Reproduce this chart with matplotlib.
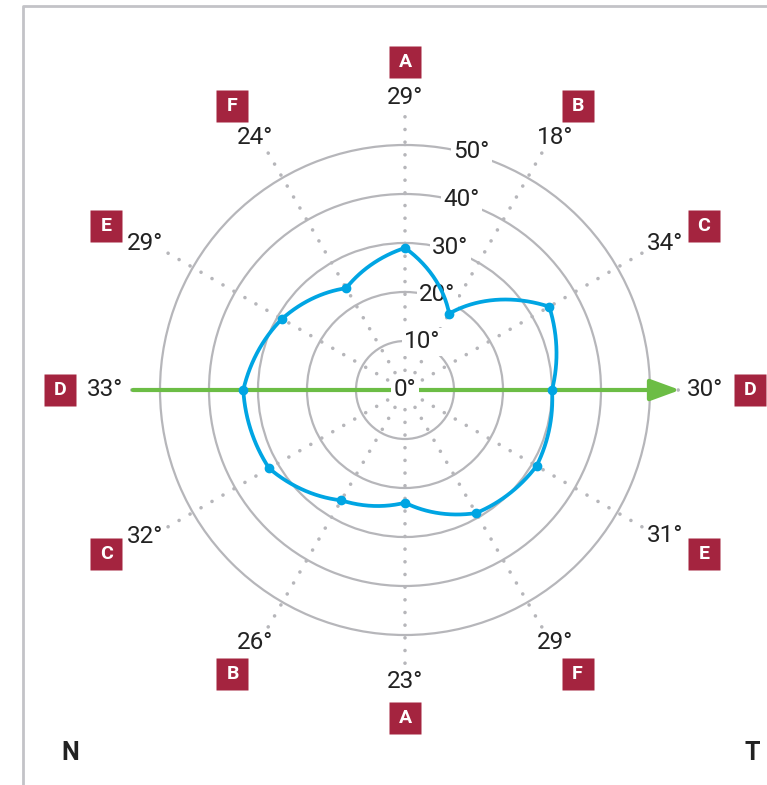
import numpy as np
import matplotlib
matplotlib.use("Agg")
import matplotlib.pyplot as plt
from matplotlib.lines import Line2D

# ---- data ----
spoke_letters = ["A", "B", "C", "D", "E", "F", "A", "B", "C", "D", "E", "F"]
spoke_angles_deg = [0, 30, 60, 90, 120, 150, 180, 210, 240, 270, 300, 330]
values = [29, 18, 34, 30, 31, 29, 23, 26, 32, 33, 29, 24]
ring_values = [10, 20, 30, 40, 50]
corner_left = "N"
corner_right = "T"

# ---- style ----
BLUE = "#00a5e3"
GREEN = "#6cbd45"
RED = "#a4243f"
GRAY = "#b6b6ba"
TXT = "#222222"
FONT = ["Roboto", "DejaVu Sans"]
FS = 17.5

W, H = 767, 785
fig = plt.figure(figsize=(W / 100, H / 100), dpi=100)
cx, cy, R = 405, 390, 245  # pixel centre (from top) and radius for r=50
ax = fig.add_axes([(cx - R) / W, (H - cy - R) / H, 2 * R / W, 2 * R / H],
                  projection="polar")
ax.set_theta_zero_location("N")
ax.set_theta_direction(-1)
ax.set_ylim(0, 50)
ax.spines["polar"].set_visible(False)
ax.set_xticks([])
ax.set_yticks(ring_values)
ax.set_yticklabels([])
ax.yaxis.grid(True, color=GRAY, lw=1.6)
for gl in ax.yaxis.get_gridlines():
    gl.set_clip_on(False)
ax.xaxis.grid(False)
ax.set_axisbelow(True)
ax.patch.set_alpha(0)

px = 50 / R  # data units per pixel
th = np.deg2rad(spoke_angles_deg)


def ellipse_pos(t, a, b):
    """polar (theta, r) of a point on an ellipse of pixel half-axes a, b"""
    ex, ey = a * np.sin(t), b * np.cos(t)
    return np.arctan2(ex, ey), np.hypot(ex, ey) * px


# dotted spokes
for t in th:
    ax.plot([t, t], [1.5, 56], color=GRAY, lw=2.6, ls=(0, (0.01, 3.5)),
            dash_capstyle="round", clip_on=False, zorder=1)

# ring labels
for v in ring_values:
    a = np.deg2rad(15.5 + (50 - v) * 0.11)
    ax.text(a, v + 0.5, f"{v}°", ha="center", va="center", fontsize=FS,
            family=FONT, color=TXT, zorder=4,
            bbox=dict(boxstyle="square,pad=0.1", fc="white", ec="none"))
ax.text(0, 0, "0°", ha="center", va="center", fontsize=FS, family=FONT,
        color=TXT, zorder=4,
        bbox=dict(boxstyle="square,pad=0.1", fc="white", ec="none"))

# green arrow along D axis
ax.annotate("", xy=(np.pi / 2, 275 * px), xytext=(3 * np.pi / 2, 272 * px),
            xycoords="data", textcoords="data",
            arrowprops=dict(arrowstyle="-|>,head_length=0.9,head_width=0.33",
                            color=GREEN, lw=3, shrinkA=0, shrinkB=0,
                            mutation_scale=20),
            annotation_clip=False, zorder=3)

# data curve
tc = np.append(th, th[0] + 2 * np.pi)
vc = np.append(values, values[0])
line, = ax.plot(tc, vc, color=BLUE, lw=2.7, zorder=5, clip_on=False)
line._path._interpolation_steps = 60
ax.plot(th, values, "o", color=BLUE, ms=6, zorder=6, clip_on=False)

# spoke end labels and letter boxes
for t, v, letter in zip(th, values, spoke_letters):
    lt, lr = ellipse_pos(t, 300, 292)
    ax.text(lt, lr, f"{v}°", ha="center", va="center",
            fontsize=FS, family=FONT, color=TXT, clip_on=False)
    bt, br = ellipse_pos(t, 345, 328)
    ax.plot([bt], [br], marker="s", ms=23, color=RED, mec="none",
            clip_on=False)
    ax.text(bt, br, letter, ha="center", va="center", fontsize=14,
            fontweight="bold", family=FONT, color="white", clip_on=False)

# frame
fig.add_artist(Line2D([23 / W, 23 / W, 1.01], [-0.01, 1 - 6 / H, 1 - 6 / H],
                      transform=fig.transFigure, color="#c3c3c7", lw=2.0))

# corner letters
fig.text(70 / W, 1 - 753 / H, corner_left, ha="center", va="center",
         fontsize=18, fontweight="bold", color=TXT,
         family=["Liberation Sans Narrow", "Roboto"])
fig.text(752 / W, 1 - 753 / H, corner_right, ha="center", va="center",
         fontsize=18, fontweight="bold", color=TXT,
         family=["Liberation Sans Narrow", "Roboto"])

fig.savefig("out.png", dpi=100)
